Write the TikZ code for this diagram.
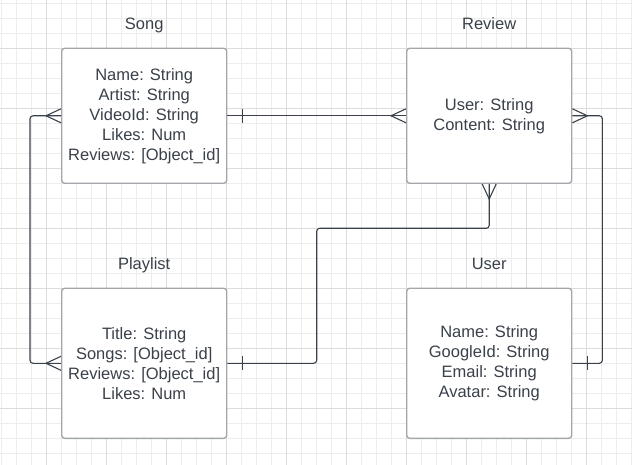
\documentclass[tikz,border=0pt]{standalone}
\usepackage{fontspec}
\setmainfont{Liberation Sans}
\usetikzlibrary{positioning,calc}

\definecolor{inkgray}{HTML}{3A414A}
\definecolor{boxgray}{HTML}{A3A6AB}
\definecolor{minorgrid}{HTML}{EDEDED}
\definecolor{majorgrid}{HTML}{DCDCDC}

\tikzset{
  entity/.style={draw=boxgray, line width=1.4pt, fill=white, rounded corners=3pt,
    minimum width=165pt, align=center, text=inkgray, inner sep=0pt,
    font=\fontsize{16.5}{20}\selectfont},
  entitytitle/.style={text=inkgray, anchor=base, inner sep=0pt,
    font=\fontsize{16.5}{20}\selectfont},
  link/.style={draw=inkgray, line width=1.1pt},
}

\begin{document}
\begin{tikzpicture}[x=1pt,y=1pt]

  \useasboundingbox (0,0) rectangle (632,464);
  \clip (0,0) rectangle (632,464);

  % light square grid
  \begin{scope}[xshift=1.7pt,yshift=10.7pt]
    \draw[step=15,line width=0.8pt,color=minorgrid] (-30,-30) grid (660,480);
  \end{scope}
  \begin{scope}[xshift=46.7pt,yshift=55.7pt]
    \draw[step=60,line width=0.8pt,color=majorgrid] (-60,-60) grid (660,480);
  \end{scope}

  % entities
  \node[entity, minimum height=135pt] (song) at (144.2,348.2)
    {Name: String\\Artist: String\\VideoId: String\\Likes: Num\\Reviews: [Object\_id]};
  \node[entity, minimum height=135pt] (review) at (489.2,348.2)
    {User: String\\Content: String};
  \node[entity, minimum height=150pt] (playlist) at (144.2,100.7)
    {Title: String\\Songs: [Object\_id]\\Reviews: [Object\_id]\\Likes: Num};
  \node[entity, minimum height=150pt] (user) at (489.2,100.7)
    {Name: String\\GoogleId: String\\Email: String\\Avatar: String};

  % entity titles
  \node[entitytitle] (songtitle) at ([yshift=17.6pt]song.north) {Song};
  \node[entitytitle] (reviewtitle) at ([yshift=18.3pt]review.north) {Review};
  \node[entitytitle] (playlisttitle) at ([yshift=18.3pt]playlist.north) {Playlist};
  \node[entitytitle] (usertitle) at ([yshift=18.3pt]user.north) {User};

  % song -- review
  \draw[link] (song.east) -- (review.west);
  \draw[link] ([xshift=15pt,yshift=7pt]song.east) -- ++(0,-14);
  \draw[link] ([yshift=7pt]review.west) -- ++(-15,-7) -- ++(15,-7);

  % song -- playlist
  \draw[link, rounded corners=3pt] (song.west) -- ++(-31,0) |- (playlist.west);
  \draw[link] ([yshift=7pt]song.west) -- ++(-15,-7) -- ++(15,-7);
  \draw[link] ([yshift=7pt]playlist.west) -- ++(-15,-7) -- ++(15,-7);

  % playlist -- review
  \coordinate (bend) at (316.7,235.7);
  \draw[link, rounded corners=3pt] (playlist.east) -| (bend) -| (review.south);
  \draw[link] ([xshift=15pt,yshift=7pt]playlist.east) -- ++(0,-14);
  \draw[link] ([xshift=-7pt]review.south) -- ++(7,-15) -- ++(7,15);

  % user -- review
  \draw[link, rounded corners=3pt] (user.east) -- ++(30,0) |- (review.east);
  \draw[link] ([xshift=15pt,yshift=7pt]user.east) -- ++(0,-14);
  \draw[link] ([yshift=7pt]review.east) -- ++(15,-7) -- ++(-15,-7);

\end{tikzpicture}
\end{document}
